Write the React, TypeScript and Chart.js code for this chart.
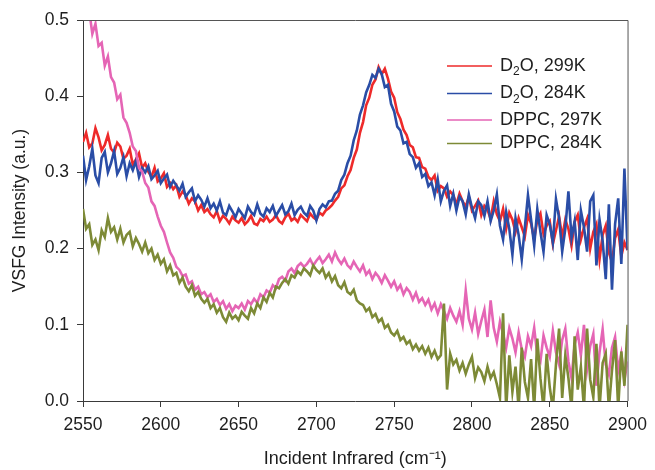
import React, { useEffect, useRef } from "react";
import { Chart, registerables } from "chart.js";

Chart.register(...registerables);

const FONT = '"Liberation Sans", Arial, Helvetica, sans-serif';

// Wavenumber grid (cm^-1)
const WAVENUMBERS = [
  2550, 2552, 2554, 2556, 2558, 2560, 2562, 2564, 2566, 2568,
  2570, 2572, 2574, 2576, 2578, 2580, 2582, 2584, 2586, 2588,
  2590, 2592, 2594, 2596, 2598, 2600, 2602, 2604, 2606, 2608,
  2610, 2612, 2614, 2616, 2618, 2620, 2622, 2624, 2626, 2628,
  2630, 2632, 2634, 2636, 2638, 2640, 2642, 2644, 2646, 2648,
  2650, 2652, 2654, 2656, 2658, 2660, 2662, 2664, 2666, 2668,
  2670, 2672, 2674, 2676, 2678, 2680, 2682, 2684, 2686, 2688,
  2690, 2692, 2694, 2696, 2698, 2700, 2702, 2704, 2706, 2708,
  2710, 2712, 2714, 2716, 2718, 2720, 2722, 2724, 2726, 2728,
  2730, 2732, 2734, 2736, 2738, 2740, 2742, 2744, 2746, 2748,
  2750, 2752, 2754, 2756, 2758, 2760, 2762, 2764, 2766, 2768,
  2770, 2772, 2774, 2776, 2778, 2780, 2782, 2784, 2786, 2788,
  2790, 2792, 2794, 2796, 2798, 2800, 2802, 2804, 2806, 2808,
  2810, 2812, 2814, 2816, 2818, 2820, 2822, 2824, 2826, 2828,
  2830, 2832, 2834, 2836, 2838, 2840, 2842, 2844, 2846, 2848,
  2850, 2852, 2854, 2856, 2858, 2860, 2862, 2864, 2866, 2868,
  2870, 2872, 2874, 2876, 2878, 2880, 2882, 2884, 2886, 2888,
  2890, 2892, 2894, 2896, 2898, 2900,
];

// D2O, 299K
const D2O_299K = [
  0.340, 0.352, 0.333, 0.338, 0.358, 0.346, 0.329, 0.336, 0.349, 0.331,
  0.326, 0.339, 0.334, 0.318, 0.322, 0.331, 0.310, 0.317, 0.325, 0.306,
  0.312, 0.301, 0.294, 0.306, 0.288, 0.292, 0.299, 0.281, 0.286, 0.278,
  0.283, 0.268, 0.275, 0.270, 0.259, 0.266, 0.262, 0.250, 0.257, 0.248,
  0.252, 0.245, 0.241, 0.249, 0.236, 0.243, 0.239, 0.233, 0.242, 0.237,
  0.234, 0.240, 0.232, 0.236, 0.243, 0.233, 0.231, 0.239, 0.236, 0.242,
  0.235, 0.238, 0.244, 0.236, 0.233, 0.241, 0.246, 0.237, 0.240, 0.235,
  0.244, 0.240, 0.236, 0.246, 0.241, 0.238, 0.247, 0.244, 0.250, 0.253,
  0.257, 0.263, 0.268, 0.279, 0.283, 0.295, 0.303, 0.319, 0.330, 0.352,
  0.366, 0.388, 0.398, 0.415, 0.422, 0.438, 0.429, 0.436, 0.423, 0.406,
  0.398, 0.379, 0.370, 0.356, 0.349, 0.336, 0.333, 0.320, 0.319, 0.307,
  0.305, 0.294, 0.290, 0.296, 0.276, 0.282, 0.279, 0.268, 0.275, 0.270,
  0.258, 0.272, 0.262, 0.255, 0.268, 0.250, 0.256, 0.263, 0.244, 0.256,
  0.251, 0.239, 0.262, 0.245, 0.236, 0.252, 0.226, 0.247, 0.238, 0.222,
  0.240, 0.228, 0.216, 0.244, 0.233, 0.212, 0.238, 0.246, 0.219, 0.230,
  0.236, 0.206, 0.224, 0.242, 0.215, 0.238, 0.226, 0.204, 0.235, 0.244,
  0.212, 0.228, 0.239, 0.200, 0.222, 0.232, 0.186, 0.218, 0.230, 0.195,
  0.182, 0.214, 0.225, 0.190, 0.208, 0.198,
];

// D2O, 284K
const D2O_284K = [
  0.322, 0.290, 0.308, 0.331, 0.296, 0.286, 0.319, 0.327, 0.300, 0.312,
  0.328, 0.298, 0.306, 0.320, 0.295, 0.312, 0.303, 0.315, 0.294, 0.306,
  0.300, 0.308, 0.291, 0.296, 0.302, 0.286, 0.292, 0.297, 0.281, 0.289,
  0.283, 0.276, 0.285, 0.268, 0.274, 0.279, 0.262, 0.270, 0.264, 0.255,
  0.266, 0.253, 0.259, 0.250, 0.262, 0.247, 0.244, 0.256, 0.249, 0.241,
  0.252, 0.246, 0.240, 0.255, 0.248, 0.244, 0.258, 0.246, 0.242, 0.253,
  0.248, 0.256, 0.243, 0.250, 0.257, 0.245, 0.249, 0.259, 0.244, 0.251,
  0.255, 0.247, 0.243, 0.256, 0.250, 0.237, 0.252, 0.258, 0.254, 0.262,
  0.263, 0.272, 0.276, 0.290, 0.297, 0.312, 0.322, 0.342, 0.355, 0.376,
  0.388, 0.405, 0.415, 0.428, 0.424, 0.436, 0.429, 0.412, 0.415, 0.390,
  0.380, 0.360, 0.355, 0.338, 0.340, 0.324, 0.320, 0.306, 0.312, 0.294,
  0.298, 0.282, 0.287, 0.270, 0.291, 0.262, 0.276, 0.283, 0.256, 0.272,
  0.250, 0.268, 0.262, 0.245, 0.271, 0.254, 0.240, 0.262, 0.257, 0.243,
  0.262, 0.236, 0.250, 0.271, 0.230, 0.212, 0.248, 0.226, 0.192, 0.240,
  0.218, 0.186, 0.228, 0.270, 0.238, 0.204, 0.252, 0.222, 0.196, 0.244,
  0.232, 0.208, 0.265, 0.240, 0.196, 0.226, 0.275, 0.214, 0.236, 0.185,
  0.250, 0.228, 0.196, 0.262, 0.270, 0.178, 0.238, 0.210, 0.160, 0.258,
  0.146, 0.232, 0.266, 0.180, 0.305, 0.198,
];

// DPPC, 297K
const DPPC_297K = [
  0.540, 0.505, 0.512, 0.482, 0.495, 0.466, 0.470, 0.440, 0.452, 0.425,
  0.418, 0.396, 0.402, 0.372, 0.365, 0.352, 0.334, 0.328, 0.306, 0.301,
  0.286, 0.280, 0.262, 0.256, 0.242, 0.230, 0.222, 0.208, 0.195, 0.188,
  0.176, 0.172, 0.164, 0.166, 0.154, 0.157, 0.146, 0.150, 0.140, 0.143,
  0.136, 0.140, 0.130, 0.134, 0.126, 0.131, 0.121, 0.127, 0.118, 0.125,
  0.122, 0.128, 0.120, 0.131, 0.127, 0.134, 0.129, 0.140, 0.136, 0.145,
  0.142, 0.152, 0.148, 0.160, 0.163, 0.158, 0.170, 0.174, 0.168, 0.177,
  0.181, 0.176, 0.180, 0.186, 0.178, 0.184, 0.189, 0.181, 0.186, 0.192,
  0.183, 0.195, 0.186, 0.180, 0.187, 0.178, 0.174, 0.183, 0.176, 0.170,
  0.178, 0.166, 0.171, 0.160, 0.168, 0.163, 0.155, 0.165, 0.158, 0.150,
  0.157, 0.146, 0.152, 0.140, 0.148, 0.143, 0.133, 0.142, 0.130, 0.135,
  0.126, 0.133, 0.120, 0.128, 0.115, 0.127, 0.118, 0.108, 0.122, 0.112,
  0.104, 0.118, 0.100, 0.145, 0.108, 0.094, 0.116, 0.088, 0.105, 0.120,
  0.084, 0.132, 0.096, 0.078, 0.104, 0.088, 0.070, 0.096, 0.082, 0.064,
  0.090, 0.068, 0.058, 0.085, 0.072, 0.096, 0.060, 0.052, 0.086, 0.070,
  0.058, 0.092, 0.064, 0.048, 0.080, 0.095, 0.052, 0.030, 0.074, 0.090,
  0.060, 0.100, 0.042, 0.072, 0.088, 0.020, 0.064, 0.094, 0.048, 0.035,
  0.070, 0.084, 0.040, 0.062, 0.028, 0.052,
];

// DPPC, 284K
const DPPC_284K = [
  0.252, 0.226, 0.232, 0.205, 0.212, 0.198, 0.224, 0.215, 0.240, 0.222,
  0.228, 0.212, 0.226, 0.208, 0.218, 0.222, 0.203, 0.214, 0.206, 0.196,
  0.208, 0.194, 0.200, 0.185, 0.192, 0.180, 0.186, 0.170, 0.178, 0.165,
  0.168, 0.155, 0.162, 0.150, 0.144, 0.152, 0.138, 0.143, 0.134, 0.129,
  0.134, 0.122, 0.127, 0.116, 0.122, 0.110, 0.104, 0.116, 0.108, 0.112,
  0.106, 0.117, 0.112, 0.108, 0.122, 0.115, 0.128, 0.122, 0.136, 0.130,
  0.142, 0.136, 0.150, 0.148, 0.155, 0.160, 0.154, 0.165, 0.162, 0.170,
  0.166, 0.174, 0.170, 0.165, 0.178, 0.172, 0.168, 0.174, 0.162, 0.168,
  0.157, 0.164, 0.152, 0.148, 0.156, 0.143, 0.140, 0.146, 0.132, 0.128,
  0.126, 0.118, 0.122, 0.110, 0.114, 0.104, 0.108, 0.096, 0.100, 0.090,
  0.086, 0.092, 0.080, 0.084, 0.075, 0.079, 0.068, 0.074, 0.066, 0.072,
  0.062, 0.070, 0.058, 0.066, 0.055, 0.060, 0.128, 0.015, 0.062, 0.048,
  0.054, 0.040, 0.050, 0.036, 0.048, 0.058, 0.030, 0.044, 0.038, 0.026,
  0.045, 0.030, 0.038, 0.022, 0.004, 0.115, -0.010, 0.060, 0.012, 0.045,
  -0.010, 0.070, 0.025, 0.004, 0.055, -0.010, 0.082, 0.030, -0.010, 0.062,
  0.018, -0.010, 0.048, 0.095, 0.004, 0.060, 0.030, -0.010, 0.085, 0.015,
  0.045, -0.010, 0.095, 0.028, 0.005, 0.075, -0.010, 0.050, 0.062, -0.010,
  0.040, 0.080, -0.010, 0.065, 0.020, 0.100,
];

const SERIES_LABELS = ["D₂O, 299K", "D₂O, 284K", "DPPC, 297K", "DPPC, 284K"];
const SERIES_VALUES = [D2O_299K, D2O_284K, DPPC_297K, DPPC_284K];
const SERIES_COLORS = ["#ee2a2a", "#2a4da6", "#e565b5", "#7d8a36"];
const DRAW_ORDER = [3, 2, 1, 0]; // lower = drawn later (on top)

const Y_TICKS = [0, 0.1, 0.2, 0.3, 0.4, 0.5];
const X_TICKS = [2550, 2600, 2650, 2700, 2750, 2800, 2850, 2900];

const AXIS_COLOR = "#3a3a3a";
const TEXT_COLOR = "#1e1e1e";

const boxPlugin = {
  id: "boxPlugin",
  afterDatasetsDraw(chart: any) {
    const { ctx, chartArea } = chart;
    ctx.save();
    ctx.strokeStyle = "#555";
    ctx.lineWidth = 1;
    ctx.beginPath();
    ctx.moveTo(chartArea.left, chartArea.top + 0.5);
    ctx.lineTo(chartArea.right + 0.5, chartArea.top + 0.5);
    ctx.lineTo(chartArea.right + 0.5, chartArea.bottom);
    ctx.stroke();
    ctx.restore();
  },
};

const legendPlugin = {
  id: "insideLegend",
  afterDraw(chart: any) {
    const { ctx } = chart;
    const rows = [66, 93.5, 120, 143.5];
    const big = `18px ${FONT}`;
    const small = `12px ${FONT}`;
    chart.data.datasets.forEach((ds: any, i: number) => {
      const y = rows[i];
      ctx.save();
      ctx.strokeStyle = ds.borderColor;
      ctx.lineWidth = 1.7;
      ctx.beginPath();
      ctx.moveTo(447, y);
      ctx.lineTo(492, y);
      ctx.stroke();
      ctx.fillStyle = TEXT_COLOR;
      ctx.textBaseline = "middle";
      ctx.textAlign = "left";
      const parts = String(ds.label).split("₂");
      let x = 500;
      ctx.font = big;
      ctx.fillText(parts[0], x, y);
      x += ctx.measureText(parts[0]).width;
      if (parts.length > 1) {
        ctx.font = small;
        ctx.fillText("2", x, y + 6);
        x += ctx.measureText("2").width;
        ctx.font = big;
        ctx.fillText(parts[1], x, y);
      }
      ctx.restore();
    });
  },
};

export default function App() {
  const canvasRef = useRef<HTMLCanvasElement | null>(null);

  useEffect(() => {
    document.body.style.margin = "0";
    const canvas = canvasRef.current;
    if (!canvas) return;

    const datasets = SERIES_VALUES.map((vals, s) => ({
      label: SERIES_LABELS[s],
      data: vals.map((v, i) => ({ x: WAVENUMBERS[i], y: v })),
      borderColor: SERIES_COLORS[s],
      backgroundColor: SERIES_COLORS[s],
      borderWidth: 2.6,
      pointRadius: 0,
      tension: 0,
      fill: false,
      order: DRAW_ORDER[s],
    }));

    const chart = new Chart(canvas, {
      type: "line",
      data: { datasets },
      plugins: [boxPlugin, legendPlugin],
      options: {
        animation: false,
        responsive: true,
        maintainAspectRatio: false,
        layout: { padding: { top: 20, right: 22, bottom: 0, left: 0 } },
        plugins: {
          legend: { display: false },
          tooltip: { enabled: false },
        },
        scales: {
          x: {
            type: "linear",
            min: X_TICKS[0],
            max: X_TICKS[X_TICKS.length - 1],
            afterBuildTicks: (scale: any) => {
              scale.ticks = X_TICKS.map((v) => ({ value: v }));
            },
            afterFit: (scale: any) => {
              scale.height = 69;
            },
            ticks: {
              color: TEXT_COLOR,
              font: { family: FONT, size: 17.5 },
              padding: 8,
              maxRotation: 0,
              callback: (v: any) => String(v),
            },
            grid: {
              drawOnChartArea: false,
              drawTicks: true,
              tickLength: 6,
              color: AXIS_COLOR,
              tickColor: AXIS_COLOR,
            },
            border: { display: true, color: AXIS_COLOR, width: 1 },
            title: {
              display: true,
              text: "Incident Infrared (cm⁻¹)",
              color: TEXT_COLOR,
              font: { family: FONT, size: 18 },
              padding: { top: 0, bottom: 0 },
            },
          },
          y: {
            type: "linear",
            min: Y_TICKS[0],
            max: Y_TICKS[Y_TICKS.length - 1],
            afterBuildTicks: (scale: any) => {
              scale.ticks = Y_TICKS.map((v) => ({ value: v }));
            },
            afterFit: (scale: any) => {
              scale.width = 83;
            },
            ticks: {
              color: TEXT_COLOR,
              font: { family: FONT, size: 17.5 },
              padding: 8,
              callback: (v: any) => Number(v).toFixed(1),
            },
            grid: {
              drawOnChartArea: false,
              drawTicks: true,
              tickLength: 6,
              color: AXIS_COLOR,
              tickColor: AXIS_COLOR,
            },
            border: { display: true, color: AXIS_COLOR, width: 1 },
            title: {
              display: true,
              text: "VSFG Intensity (a.u.)",
              color: TEXT_COLOR,
              font: { family: FONT, size: 17.5 },
              padding: { top: 10, bottom: 0 },
            },
          },
        },
      },
    } as any);

    return () => {
      chart.destroy();
    };
  }, []);

  return (
    <div style={{ position: "relative", width: 655, height: 470 }}>
      <canvas ref={canvasRef} />
    </div>
  );
}
